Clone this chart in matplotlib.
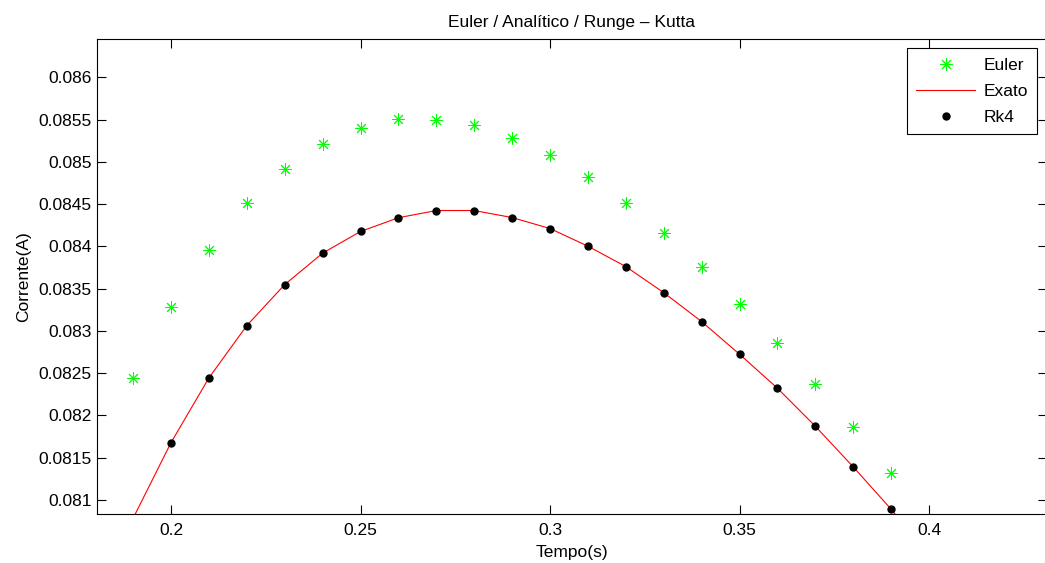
import matplotlib.pyplot as plt
import numpy as np

plt.rcParams['font.family'] = ['Liberation Sans', 'DejaVu Sans']

# time steps (s)
t_euler = [0.19, 0.20, 0.21, 0.22, 0.23, 0.24, 0.25, 0.26, 0.27, 0.28, 0.29,
           0.30, 0.31, 0.32, 0.33, 0.34, 0.35, 0.36, 0.37, 0.38, 0.39]
i_euler = [0.08244, 0.083288, 0.083959, 0.084511, 0.084917, 0.085209, 0.085399,
           0.085502, 0.085497, 0.085438, 0.085287, 0.085083, 0.084826, 0.084518,
           0.084160, 0.083761, 0.083323, 0.082858, 0.082369, 0.081860, 0.081316]

t_exato = [0.19, 0.20, 0.21, 0.22, 0.23, 0.24, 0.25, 0.26, 0.27, 0.28, 0.29,
           0.30, 0.31, 0.32, 0.33, 0.34, 0.35, 0.36, 0.37, 0.38, 0.39, 0.40]
i_exato = [0.080783, 0.081678, 0.082444, 0.083063, 0.083548, 0.083920, 0.084176,
           0.084339, 0.084424, 0.084424, 0.084341, 0.084211, 0.084002, 0.083761,
           0.083453, 0.083110, 0.082724, 0.082322, 0.081872, 0.081391, 0.080890,
           0.080350]

t_rk4 = [0.20, 0.21, 0.22, 0.23, 0.24, 0.25, 0.26, 0.27, 0.28, 0.29,
         0.30, 0.31, 0.32, 0.33, 0.34, 0.35, 0.36, 0.37, 0.38, 0.39]
i_rk4 = [0.081678, 0.082444, 0.083063, 0.083548, 0.083920, 0.084176, 0.084339,
         0.084424, 0.084424, 0.084341, 0.084211, 0.084002, 0.083761, 0.083453,
         0.083110, 0.082724, 0.082322, 0.081872, 0.081391, 0.080890]

x_ticks = [0.2, 0.25, 0.3, 0.35, 0.4]
x_tick_labels = ['0.2', '0.25', '0.3', '0.35', '0.4']
y_ticks = [0.081, 0.0815, 0.082, 0.0825, 0.083, 0.0835, 0.084, 0.0845, 0.085, 0.0855, 0.086]
y_tick_labels = ['0.081', '0.0815', '0.082', '0.0825', '0.083', '0.0835', '0.084',
                 '0.0845', '0.085', '0.0855', '0.086']

fs = 12.5
W, H = 1045, 563
fig = plt.figure(figsize=(W / 100, H / 100), dpi=100)
ax = fig.add_axes([97 / W, 1 - 514.3 / H, (1047 - 97) / W, (514.3 - 39.3) / H])

ax.plot(t_euler, i_euler, linestyle='none', marker=(8, 2, 0), ms=9, mew=0.7,
        color=(0, 1, 0), label='Euler')
ax.plot(t_exato, i_exato, color=(1, 0, 0), lw=0.8, label='Exato')
ax.plot(t_rk4, i_rk4, linestyle='none', marker='o', ms=5, color='black', label='Rk4')

ax.set_xlim(0.18047, 0.43113)
ax.set_ylim(0.08083, 0.08645)
ax.set_xticks(x_ticks)
ax.set_xticklabels(x_tick_labels)
ax.set_yticks(y_ticks)
ax.set_yticklabels(y_tick_labels)

ax.tick_params(axis='both', direction='in', top=True, right=True, labelsize=fs,
               width=0.8, length=6.5)
ax.tick_params(axis='x', pad=6.5)
ax.tick_params(axis='y', pad=4)
for s in ax.spines.values():
    s.set_linewidth(0.8)

ax.set_title('Euler / Analítico / Runge – Kutta', fontsize=fs, pad=9)
ax.set_xlabel('Tempo(s)', fontsize=fs, labelpad=4.5)
ax.set_ylabel('Corrente(A)', fontsize=fs, labelpad=5)

leg = ax.legend(loc='upper right', bbox_to_anchor=(1037.3 / W, 1 - 48.3 / H),
                bbox_transform=fig.transFigure, borderaxespad=0, fontsize=fs,
                fancybox=False, framealpha=1, edgecolor='black', handlelength=3.4,
                handletextpad=0.45, labelspacing=0.62, borderpad=0.55)
leg.get_frame().set_linewidth(0.8)

plt.savefig('out.png', dpi=100)
